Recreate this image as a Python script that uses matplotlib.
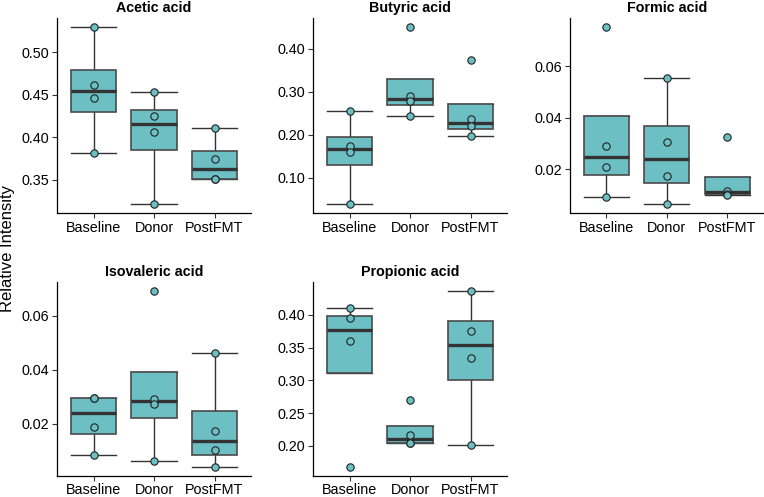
import numpy as np
import matplotlib
matplotlib.use("Agg")
import matplotlib.pyplot as plt

plt.rcParams['font.family'] = ['Liberation Sans', 'DejaVu Sans']

groups = ['Baseline', 'Donor', 'PostFMT']

# relative intensity per sample
acetic_baseline = [0.530, 0.462, 0.446, 0.382]
acetic_donor = [0.453, 0.4255, 0.406, 0.322]
acetic_postfmt = [0.4106, 0.3749, 0.3515, 0.3505]

butyric_baseline = [0.2547, 0.1738, 0.1606, 0.0394]
butyric_donor = [0.4505, 0.2889, 0.2772, 0.2430]
butyric_postfmt = [0.3728, 0.2360, 0.2189, 0.1972]

formic_baseline = [0.0752, 0.0290, 0.0208, 0.0093]
formic_donor = [0.0555, 0.0304, 0.0175, 0.0067]
formic_postfmt = [0.0326, 0.0117, 0.0106, 0.0102]

isovaleric_baseline = [0.0296, 0.0295, 0.0186, 0.0084]
isovaleric_donor = [0.0693, 0.0292, 0.0273, 0.0060]
isovaleric_postfmt = [0.0461, 0.0173, 0.0100, 0.0038]

propionic_baseline = [0.4102, 0.3949, 0.3593, 0.1674]
propionic_donor = [0.2707, 0.2160, 0.2048, 0.2040]
propionic_postfmt = [0.4366, 0.3756, 0.3333, 0.2020]

panels = [
    ('Acetic acid', [acetic_baseline, acetic_donor, acetic_postfmt], [0.35, 0.40, 0.45, 0.50]),
    ('Butyric acid', [butyric_baseline, butyric_donor, butyric_postfmt], [0.10, 0.20, 0.30, 0.40]),
    ('Formic acid', [formic_baseline, formic_donor, formic_postfmt], [0.02, 0.04, 0.06]),
    ('Isovaleric acid', [isovaleric_baseline, isovaleric_donor, isovaleric_postfmt], [0.02, 0.04, 0.06]),
    ('Propionic acid', [propionic_baseline, propionic_donor, propionic_postfmt], [0.20, 0.25, 0.30, 0.35, 0.40]),
]

fill = '#6cbfc2'
W, H = 764, 497
fig = plt.figure(figsize=(W / 100, H / 100), dpi=100)

# panel boxes in pixels
lefts = [57.3, 313.3, 570]
rows = [(18, 212.5), (282, 476)]
width_px = 193.5

for i, (title, data, ticks) in enumerate(panels):
    r, c = divmod(i, 3)
    top, bot = rows[r]
    ax = fig.add_axes([lefts[c] / W, 1 - bot / H, width_px / W, (bot - top) / H])
    pos = [1, 2, 3]
    ax.boxplot(data, positions=pos, widths=0.75, whis=1.5, showfliers=False,
               patch_artist=True, capwidths=0.75,
               boxprops=dict(facecolor=fill, edgecolor='#4a4a4a', linewidth=1.2, zorder=2),
               medianprops=dict(color='#333333', linewidth=2.4, zorder=3),
               whiskerprops=dict(color='#333333', linewidth=1.0, zorder=1),
               capprops=dict(color='#333333', linewidth=1.0, zorder=1))
    for p, vals in zip(pos, data):
        ax.scatter([p] * len(vals), vals, s=28, facecolor=fill, edgecolor='#222222',
                   linewidth=0.8, zorder=4)
    allv = np.concatenate([np.array(d) for d in data])
    lo, hi = allv.min(), allv.max()
    pad = 0.05 * (hi - lo)
    ax.set_ylim(lo - pad, hi + pad)
    ax.set_xlim(0.4, 3.6)
    ax.set_xticks(pos)
    ax.set_xticklabels(groups)
    ax.set_yticks(ticks)
    ax.set_yticklabels(['%.2f' % t for t in ticks])
    ax.tick_params(labelsize=10.4, length=3.5, width=0.8, pad=2.5, color='#333333')
    if r == 1:
        ax.tick_params(axis='x', pad=1.5)
    for s in ['top', 'right']:
        ax.spines[s].set_visible(False)
    for s in ['left', 'bottom']:
        ax.spines[s].set_linewidth(0.9)
    ax.set_title(title, fontsize=10.3, fontweight='bold', pad=4)

fig.text(7.5 / W, 1 - 249 / H, 'Relative Intensity', rotation=90, ha='center', va='center',
         fontsize=12)

fig.savefig('out.png', dpi=100)
